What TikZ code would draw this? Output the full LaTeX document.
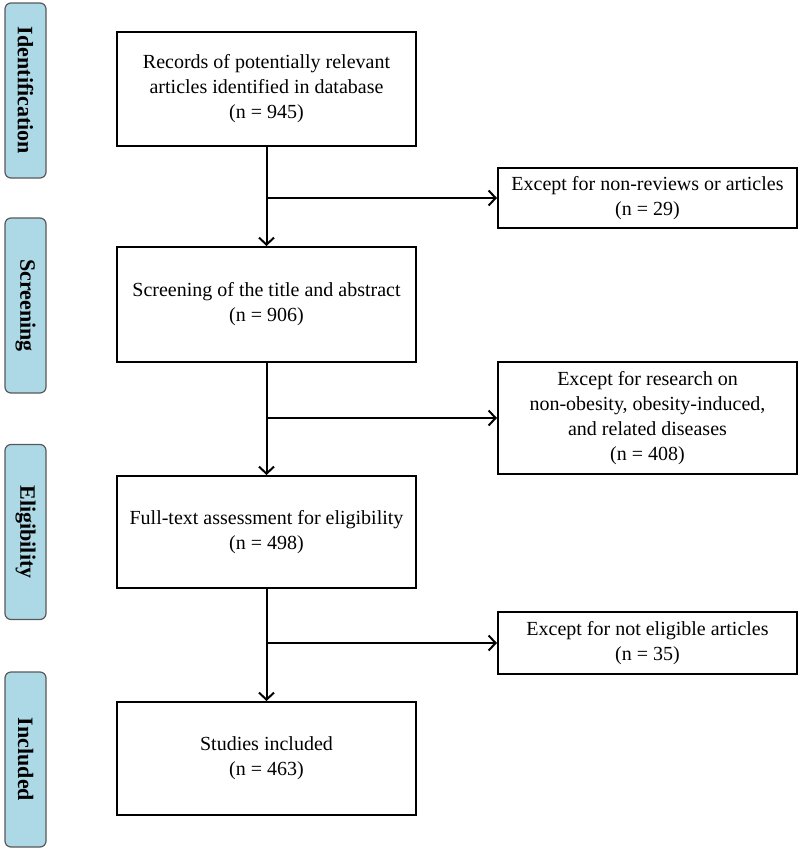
\documentclass[tikz,border=0pt]{standalone}
\usepackage{fontspec}
\setmainfont{Liberation Serif}
\usetikzlibrary{arrows.meta}

\begin{document}
\begin{tikzpicture}
      [ x = 1pt, y = -1pt
      , stage/.style =
        { draw = black!65, fill = stagefill, rounded corners = 6pt
        , line width = 1.2pt, minimum width = 175pt, minimum height = 41pt
        , font = \fontsize{22}{26}\selectfont\bfseries, rotate = -90
        , inner sep = 0pt }
      , box/.style =
        { draw, line width = 2pt, minimum width = 299pt
        , align = center, font = \fontsize{20}{25}\selectfont, inner sep = 2pt }
      , edge/.style =
        { line width = 2pt, -{Straight Barb[length=7pt, width=15pt, line width=2pt]} }
      ]
      \definecolor{stagefill}{RGB}{173,216,230}
      \useasboundingbox (0, 0) rectangle (800, 849);
      % stages on the left
      \node [stage] (identification) at (25.5, 90.5) {Identification};
      \node [stage] (screening) at (25.5, 305.5) {Screening};
      \node [stage] (eligibility) at (25.5, 532) {Eligibility};
      \node [stage] (included) at (25.5, 759.5) {Included};
      % main column
      \node [box, minimum height = 114pt] (records) at (266.5, 89)
        {Records of potentially relevant\\articles identified in database\\(n = 945)};
      \node [box, minimum height = 115pt] (titles) at (266.5, 304.5)
        {Screening of the title and abstract\\(n = 906)};
      \node [box, minimum height = 112pt] (fulltext) at (266.5, 532)
        {Full-text assessment for eligibility\\(n = 498)};
      \node [box, minimum height = 113pt] (studies) at (266.5, 758.5)
        {Studies included\\(n = 463)};
      % excluded records
      \node [box, minimum height = 60pt] (excl1) at (647.5, 198)
        {Except for non-reviews or articles\\(n = 29)};
      \node [box, minimum height = 112pt] (excl2) at (647.5, 418)
        {Except for research on\\non-obesity, obesity-induced,\\and related diseases\\(n = 408)};
      \node [box, minimum height = 62pt] (excl3) at (647.5, 643)
        {Except for not eligible articles\\(n = 35)};
      \draw [edge] (records) to (titles);
      \draw [edge] (titles) to (fulltext);
      \draw [edge] (fulltext) to (studies);
      \draw [edge] (records.south |- excl1.west) to (excl1.west);
      \draw [edge] (titles.south |- excl2.west) to (excl2.west);
      \draw [edge] (fulltext.south |- excl3.west) to (excl3.west);
\end{tikzpicture}
\end{document}
